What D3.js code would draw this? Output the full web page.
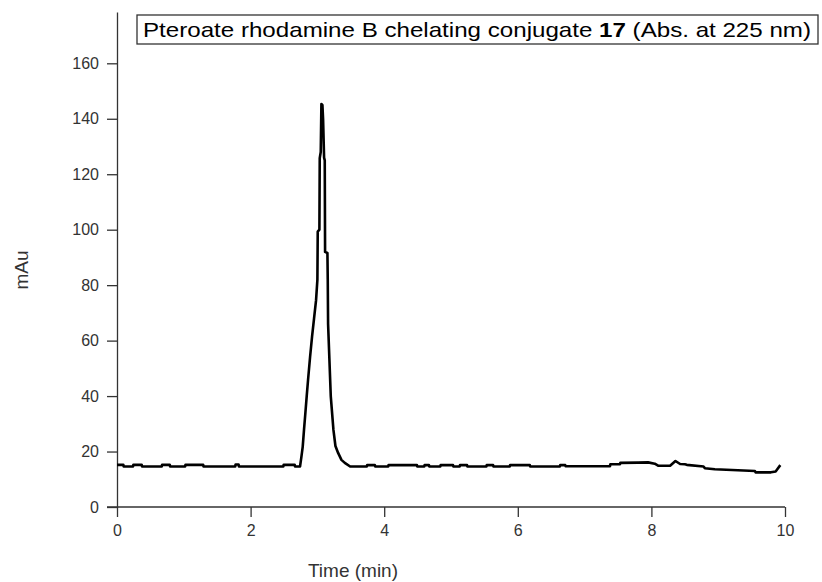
<!DOCTYPE html>
<html>
<head>
<meta charset="utf-8">
<script src="https://cdn.jsdelivr.net/npm/d3@7"></script>
<style>
  body { margin: 0; background: #fff; }
  svg { font-family: "Liberation Sans", Arial, sans-serif; }
  .axis path, .axis line { stroke: #333; stroke-width: 1.3; }
  .axis text { fill: #333; font-size: 16px; }
</style>
</head>
<body>
<svg id="chart" width="822" height="582"></svg>
<script>
// chromatogram trace (time in min, absorbance in mAu)
const times = [
  0, 0.095, 0.1, 0.24, 0.245, 0.37, 0.375, 0.67, 0.675, 0.79, 0.795, 1.02, 1.025, 1.29, 1.295,
  1.77, 1.775, 1.82, 1.825, 2.49, 2.495, 2.66, 2.665, 2.74,
  2.76, 2.78, 2.80, 2.82, 2.84, 2.86, 2.89, 2.92, 2.95, 2.98, 3.00, 3.005, 3.03, 3.035, 3.05, 3.06,
  3.075, 3.085, 3.10, 3.11, 3.115, 3.15, 3.155, 3.16, 3.20, 3.24, 3.27, 3.31, 3.36, 3.41, 3.49,
  3.74, 3.745, 3.86, 3.865, 4.06, 4.065, 4.49, 4.495, 4.6, 4.605, 4.67, 4.675, 4.84, 4.845, 5.03, 5.035,
  5.13, 5.135, 5.24, 5.245, 5.53, 5.535, 5.63, 5.635, 5.88, 5.885, 6.18, 6.185, 6.63, 6.635, 6.71, 6.715,
  7.38, 7.385, 7.53, 7.535, 7.8, 7.95, 8.05, 8.1, 8.28, 8.36, 8.43, 8.5, 8.53, 8.78, 8.8, 8.95,
  9.55, 9.56, 9.79, 9.86, 9.89, 9.93, 9.96
];
const mAu = [
  15.2, 15.2, 14.6, 14.6, 15.2, 15.2, 14.6, 14.6, 15.2, 15.2, 14.6, 14.6, 15.2, 15.2, 14.6,
  14.6, 15.3, 15.3, 14.6, 14.6, 15.2, 15.2, 14.6, 14.6,
  18, 21.7, 28, 33.9, 40, 45.8, 54, 61.4, 68, 74.6, 82, 99.3, 100, 125.8, 128, 145.3,
  145, 140, 126, 125, 92, 91.6, 82, 66, 40, 27.8, 22, 19.5, 17, 15.9, 14.6,
  14.6, 15.1, 15.1, 14.6, 14.6, 15.1, 15.1, 14.6, 14.6, 15.1, 15.1, 14.6, 14.6, 15.1, 15.1, 14.6,
  14.6, 15.1, 15.1, 14.6, 14.6, 15.1, 15.1, 14.6, 14.6, 15.1, 15.1, 14.6, 14.6, 15.1, 15.1, 14.7,
  14.7, 15.4, 15.4, 15.9, 16.0, 16.1, 15.6, 14.9, 14.9, 16.6, 15.5, 15.4, 15.2, 14.6, 14.0,
  13.6, 13.0, 12.5, 12.5, 12.8, 13.8, 15.1
];
const xTicks = [0, 2, 4, 6, 8, 10];
const yTicks = [0, 20, 40, 60, 80, 100, 120, 140, 160];

const titleText = "Pteroate rhodamine B chelating conjugate ";
const titleBold = "17";
const titleTail = " (Abs. at 225 nm)";

const svg = d3.select("#chart");

const x = d3.scaleLinear().domain([0, 10]).range([117, 785]);
const y = d3.scaleLinear().domain([0, 178.5]).range([507, 12]);

// axes
svg.append("g")
    .attr("class", "axis")
    .attr("transform", "translate(0,507)")
    .call(d3.axisBottom(x).tickValues(xTicks).tickSize(10).tickSizeOuter(0).tickPadding(8))
    .call(g => g.select(".domain").attr("d", "M107,0H785"));

svg.append("g")
    .attr("class", "axis")
    .attr("transform", "translate(117,0)")
    .call(d3.axisLeft(y).tickValues(yTicks).tickSize(10).tickSizeOuter(0).tickPadding(8));

// trace
const points = times.map((t, i) => [t, mAu[i]]);
const line = d3.line()
    .x(d => x(d[0]))
    .y(d => y(d[1]));

svg.append("path")
    .datum(points)
    .attr("d", line)
    .attr("fill", "none")
    .attr("stroke", "#000")
    .attr("stroke-width", 2.6)
    .attr("stroke-linejoin", "round");

// axis titles
svg.append("text")
    .attr("x", 353)
    .attr("y", 577)
    .attr("text-anchor", "middle")
    .attr("font-size", 19)
    .attr("fill", "#333")
    .text("Time (min)");

svg.append("text")
    .attr("transform", "translate(28,270) rotate(-90)")
    .attr("text-anchor", "middle")
    .attr("font-size", 19)
    .attr("fill", "#333")
    .text("mAu");

// title box
svg.append("rect")
    .attr("x", 137)
    .attr("y", 15)
    .attr("width", 681)
    .attr("height", 29)
    .attr("fill", "#fff")
    .attr("stroke", "#333")
    .attr("stroke-width", 1.3);

const title = svg.append("text")
    .attr("x", 143)
    .attr("y", 37)
    .attr("font-size", 21)
    .attr("fill", "#000");
title.append("tspan").text(titleText);
title.append("tspan").attr("font-weight", "bold").text(titleBold);
title.append("tspan").text(titleTail);

// stretch the title so it fills the box like the original
const tw = title.node().getComputedTextLength();
title.attr("textLength", 668).attr("lengthAdjust", "spacingAndGlyphs");
if (Math.abs(tw - 668) > 1 && title.node().getComputedTextLength() === tw) {
  title.attr("transform", `translate(143,0) scale(${668 / tw},1) translate(-143,0)`)
       .attr("textLength", null);
}
</script>
</body>
</html>
